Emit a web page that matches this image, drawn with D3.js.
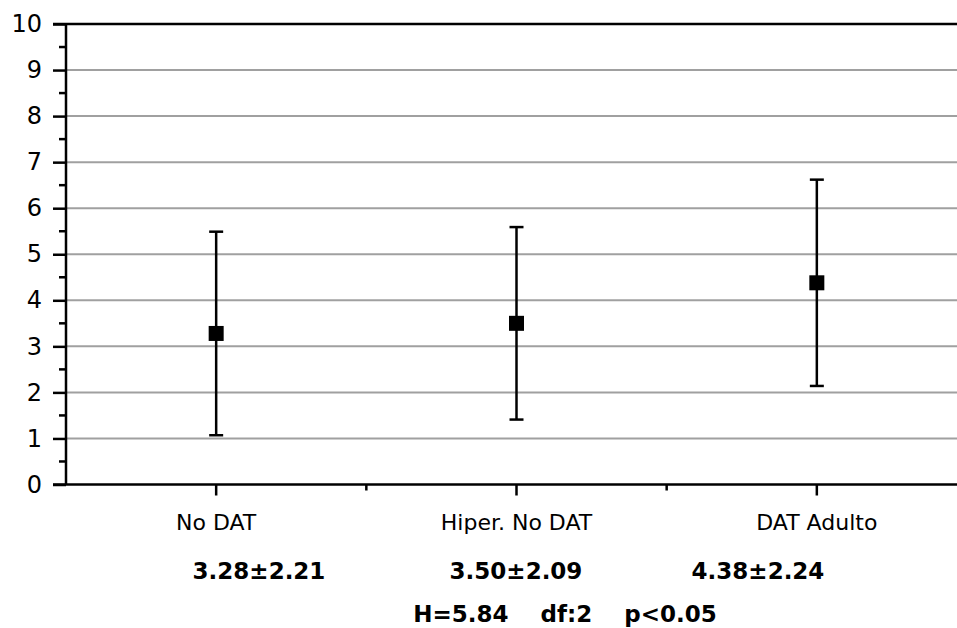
<!DOCTYPE html>
<html>
<head>
<meta charset="utf-8">
<script src="https://cdn.jsdelivr.net/npm/d3@7"></script>
<style>
  html, body { margin: 0; padding: 0; background: #fff; }
  svg { display: block; }
  text { font-family: "DejaVu Sans", Verdana, sans-serif; fill: #000; }
</style>
</head>
<body>
<script>
// Group means and standard deviations
const categories = ["No DAT", "Hiper. No DAT", "DAT Adulto"];
const means = [3.28, 3.50, 4.38];
const sds = [2.21, 2.09, 2.24];
const yTicks = [0, 1, 2, 3, 4, 5, 6, 7, 8, 9, 10];
const statLabels = ["3.28±2.21", "3.50±2.09", "4.38±2.24"];
const testLabel = "H=5.84    df:2    p<0.05";

const W = 957, H = 628;
const svg = d3.select("body").append("svg").attr("width", W).attr("height", H);

const x = d3.scaleBand().domain(categories).range([66, 967]).paddingInner(0).paddingOuter(0);
const y = d3.scaleLinear().domain([0, 10]).range([484.5, 24]);

const left = x.range()[0], right = x.range()[1];

// horizontal gridlines
svg.append("g").selectAll("line").data(yTicks.filter(t => t > 0 && t < 10)).join("line")
  .attr("x1", left).attr("x2", right)
  .attr("y1", d => y(d)).attr("y2", d => y(d))
  .attr("stroke", "#a0a0a0").attr("stroke-width", 2);

// top border of plot area
svg.append("line").attr("x1", left - 13).attr("x2", right)
  .attr("y1", y(10)).attr("y2", y(10))
  .attr("stroke", "#000").attr("stroke-width", 2.5);

// y axis with half-unit minor ticks
const yAxis = d3.axisLeft(y).tickValues(yTicks).tickSize(13).tickPadding(11).tickFormat(d3.format("d"));
const gy = svg.append("g").attr("transform", `translate(${left},0)`).call(yAxis);
gy.select(".domain").attr("stroke", "#000").attr("stroke-width", 2.5).attr("d", `M-0,${y(0)}V${y(10)}`);
gy.selectAll(".tick line").attr("stroke", "#000").attr("stroke-width", 2.5);
gy.selectAll(".tick text").attr("font-size", 24).attr("font-family", "DejaVu Sans, Verdana, sans-serif");
const minor = d3.range(0, 10).map(v => v + 0.5);
gy.append("g").selectAll("line").data(minor).join("line")
  .attr("x1", -7).attr("x2", 0).attr("y1", d => y(d)).attr("y2", d => y(d))
  .attr("stroke", "#000").attr("stroke-width", 2.5);

// x axis line
svg.append("line").attr("x1", left - 13).attr("x2", right)
  .attr("y1", y(0)).attr("y2", y(0)).attr("stroke", "#000").attr("stroke-width", 2.5);
// ticks at category centres
svg.append("g").selectAll("line").data(categories).join("line")
  .attr("x1", d => x(d) + x.bandwidth() / 2).attr("x2", d => x(d) + x.bandwidth() / 2)
  .attr("y1", y(0)).attr("y2", y(0) + 11)
  .attr("stroke", "#000").attr("stroke-width", 2.5);
// ticks at category boundaries
svg.append("g").selectAll("line").data(categories.slice(1)).join("line")
  .attr("x1", d => x(d)).attr("x2", d => x(d))
  .attr("y1", y(0)).attr("y2", y(0) + 6)
  .attr("stroke", "#000").attr("stroke-width", 2.5);
// category labels
svg.append("g").selectAll("text").data(categories).join("text")
  .attr("x", d => x(d) + x.bandwidth() / 2).attr("y", 530)
  .attr("text-anchor", "middle").attr("font-size", 22).text(d => d);

// error bars (mean ± SD) and mean markers
const data = categories.map((c, i) => ({ c, m: means[i], s: sds[i] }));
const cx = d => x(d.c) + x.bandwidth() / 2;
const eb = svg.append("g");
eb.selectAll("line.v").data(data).join("line").attr("class", "v")
  .attr("x1", cx).attr("x2", cx)
  .attr("y1", d => y(d.m + d.s)).attr("y2", d => y(d.m - d.s))
  .attr("stroke", "#000").attr("stroke-width", 2.5);
["top", "bot"].forEach(k => {
  eb.selectAll("line." + k).data(data).join("line").attr("class", k)
    .attr("x1", d => cx(d) - 7).attr("x2", d => cx(d) + 7)
    .attr("y1", d => y(k === "top" ? d.m + d.s : d.m - d.s))
    .attr("y2", d => y(k === "top" ? d.m + d.s : d.m - d.s))
    .attr("stroke", "#000").attr("stroke-width", 2.5);
});
eb.selectAll("rect").data(data).join("rect")
  .attr("x", d => cx(d) - 7.5).attr("y", d => y(d.m) - 7.5)
  .attr("width", 15).attr("height", 15).attr("fill", "#000");

// summary statistics under the axis
const statX = [259, 516, 758];
svg.append("g").selectAll("text").data(statLabels).join("text")
  .attr("x", (d, i) => statX[i]).attr("y", 578.5)
  .attr("text-anchor", "middle").attr("font-size", 23).attr("font-weight", "bold").text(d => d);
svg.append("text").attr("x", 565).attr("y", 621.5)
  .attr("text-anchor", "middle").attr("font-size", 23).attr("font-weight", "bold")
  .style("white-space", "pre").text(testLabel);
</script>
</body>
</html>
